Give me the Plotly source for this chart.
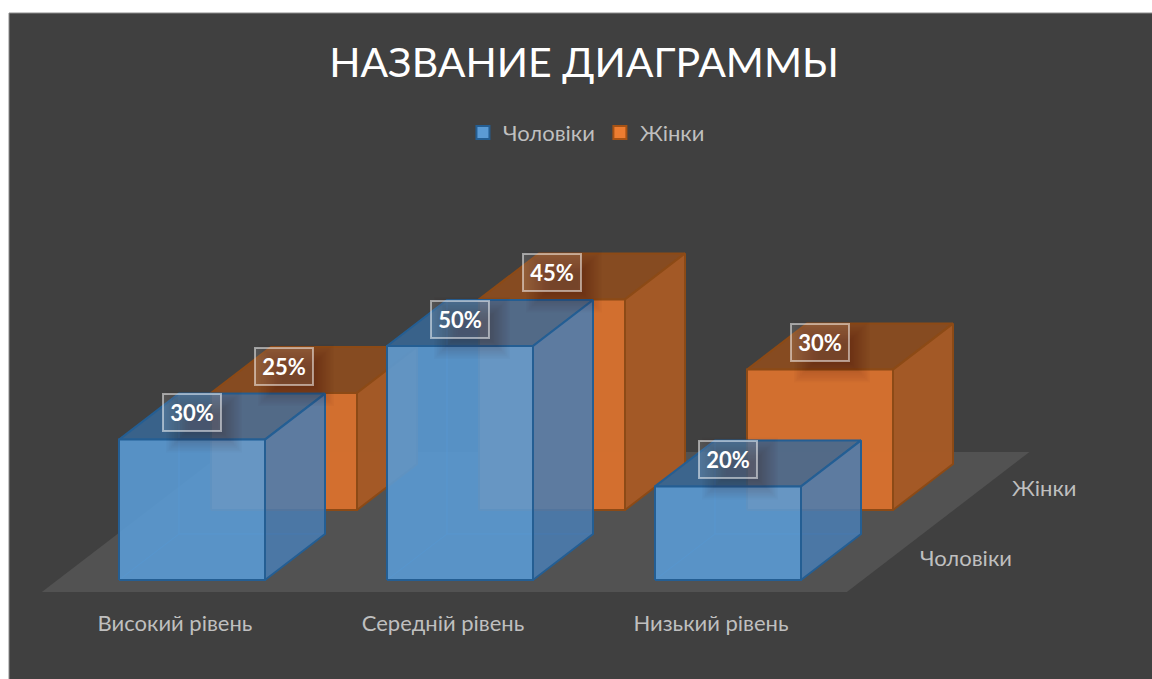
import plotly.graph_objects as go

# ---- data ----
categories = ["Високий рівень", "Середній рівень", "Низький рівень"]
series_names = ["Чоловіки", "Жінки"]
men_values = [30, 50, 20]
women_values = [25, 45, 30]
title_text = "НАЗВАНИЕ ДИАГРАММЫ"

# ---- oblique projection scale (value space -> plot space) ----
X0, Y0 = 119.0, 580.0
CAT_STEP, BAR_W = 268.0, 146.0
ROW_DX, ROW_DY = 92.0, 70.0
DEPTH_DX, DEPTH_DY = 60.0, 46.0
PX_PER_PCT = 4.68
FLOOR_PAD_X, FLOOR_PAD_D = 61.5, 12.0
SLOPE = DEPTH_DX / DEPTH_DY
FONT = "Lato, Open Sans, sans-serif"


def pt(cat, row, val=0.0, wide=0.0, deep=0.0):
    x = X0 + cat * CAT_STEP + row * ROW_DX + wide * BAR_W + deep * DEPTH_DX
    y = Y0 - row * ROW_DY - deep * DEPTH_DY - val * PX_PER_PCT
    return x, y


fig = go.Figure()


def poly(points, fill, line=None, lw=2):
    xs = [p[0] for p in points] + [points[0][0]]
    ys = [p[1] for p in points] + [points[0][1]]
    fig.add_trace(go.Scatter(
        x=xs, y=ys, mode="lines", fill="toself", fillcolor=fill,
        line=dict(color=line or "rgba(0,0,0,0)", width=lw if line else 0),
        hoverinfo="skip", showlegend=False))


# floor
fx0 = X0 - FLOOR_PAD_X - FLOOR_PAD_D * SLOPE
fx1 = X0 + (len(categories) - 1) * CAT_STEP + BAR_W + FLOOR_PAD_X - FLOOR_PAD_D * SLOPE
fy0 = Y0 + FLOOR_PAD_D
fdepth = ROW_DY + DEPTH_DY + 2 * FLOOR_PAD_D
poly([(fx0, fy0), (fx1, fy0), (fx1 + fdepth * SLOPE, fy0 - fdepth), (fx0 + fdepth * SLOPE, fy0 - fdepth)], "#525252")

STYLES = {
    1: dict(back="rgba(200,105,40,0.35)", front="rgba(214,112,47,0.96)",
            side="rgba(165,90,37,0.96)", top="rgba(135,75,32,0.96)", edge="#8c4a16", inner=None),
    0: dict(back="rgba(91,155,213,0.30)", front="rgba(91,155,213,0.85)",
            side="rgba(72,122,176,0.80)", top="rgba(52,100,148,0.75)", edge="#245e93", inner="rgba(60,120,180,0.5)"),
}


def column(cat, row, val):
    s = STYLES[row]
    # hidden faces first, visible through the translucent ones
    poly([pt(cat, row), pt(cat, row, 0, 1), pt(cat, row, 0, 1, 1), pt(cat, row, 0, 0, 1)], s["back"], s["inner"], 1)
    poly([pt(cat, row, 0, 0, 1), pt(cat, row, 0, 1, 1), pt(cat, row, val, 1, 1), pt(cat, row, val, 0, 1)], s["back"], s["inner"], 1)
    poly([pt(cat, row), pt(cat, row, 0, 0, 1), pt(cat, row, val, 0, 1), pt(cat, row, val)], s["back"], s["inner"], 1)
    # visible faces
    poly([pt(cat, row, val), pt(cat, row, val, 1), pt(cat, row, val, 1, 1), pt(cat, row, val, 0, 1)], s["top"], s["edge"])
    poly([pt(cat, row, 0, 1), pt(cat, row, 0, 1, 1), pt(cat, row, val, 1, 1), pt(cat, row, val, 1)], s["side"], s["edge"])
    poly([pt(cat, row), pt(cat, row, 0, 1), pt(cat, row, val, 1), pt(cat, row, val)], s["front"], s["edge"])


LABEL_W, LABEL_H, LABEL_UP = 60, 39, 27
annotations = []


def label(cat, row, val):
    x, y = pt(cat, row, val, 0.5)
    cy = y - LABEL_UP
    # soft shadow below the label
    for i in range(16):
        hw, hh = 38 - 1.6 * i, 31 - 1.6 * i
        sx, sy = x + 12, cy + 9
        poly([(sx - hw, sy - hh), (sx + hw, sy - hh), (sx + hw, sy + hh), (sx - hw, sy + hh)], "rgba(30,20,10,0.018)")
    annotations.append(dict(
        x=x, y=cy, xref="x", yref="y", text=f"<b>{val}%</b>", showarrow=False,
        width=LABEL_W - 4, height=LABEL_H - 4, align="center", valign="middle",
        font=dict(family=FONT, size=22, color="#ffffff"),
        bgcolor="rgba(255,255,255,0.10)", bordercolor="rgba(255,255,255,0.5)", borderwidth=2, borderpad=0))


for c, v in enumerate(women_values):
    column(c, 1, v)
for c, v in enumerate(men_values):
    column(c, 0, v)
for c, v in enumerate(women_values):
    label(c, 1, v)
for c, v in enumerate(men_values):
    label(c, 0, v)

# category and series axis labels
fig.add_trace(go.Scatter(
    x=[pt(c, 0, 0, 0.5)[0] - 17 for c in range(len(categories))],
    y=[Y0 + 45] * len(categories), text=categories, mode="text", textposition="middle center",
    textfont=dict(family=FONT, size=22, color="#bfbfbf"),
    hoverinfo="skip", showlegend=False))
fig.add_trace(go.Scatter(
    x=[920 + r * ROW_DX for r in range(2)], y=[560 - r * ROW_DY for r in range(2)],
    text=series_names, mode="text", textposition="middle right",
    textfont=dict(family=FONT, size=22, color="#bfbfbf"),
    hoverinfo="skip", showlegend=False))

# legend entries
for name, col, edge in zip(series_names, ["#5b9bd5", "#ed7d31"], ["#245e93", "#a65214"]):
    fig.add_trace(go.Scatter(
        x=[None], y=[None], mode="markers", name=name,
        marker=dict(symbol="square", size=13, color=col, line=dict(color=edge, width=2))))

fig.update_layout(
    width=1152, height=679, margin=dict(l=9, r=0, t=13, b=0),
    paper_bgcolor="#ffffff", plot_bgcolor="#404040",
    title=dict(text=title_text, x=584 / 1152, xanchor="center", y=1 - 63 / 679, yanchor="middle",
               font=dict(family=FONT, size=41, color="#ffffff")),
    xaxis=dict(range=[9, 1152], visible=False, fixedrange=True),
    yaxis=dict(range=[679, 13], visible=False, fixedrange=True),
    legend=dict(orientation="h", x=582 / 1152, xanchor="center", y=1 - 122 / 679, yanchor="middle",
                bgcolor="rgba(0,0,0,0)", font=dict(family=FONT, size=22, color="#bfbfbf")),
    annotations=annotations,
    shapes=[dict(type="rect", xref="paper", yref="paper", x0=0, x1=1.01, y0=-0.01, y1=1,
                 line=dict(color="#8c8c8c", width=1), fillcolor="rgba(0,0,0,0)")],
)
fig.write_html("out.html", config=dict(displayModeBar=False),
               post_script="document.body.style.margin='0';document.body.style.overflow='hidden';")
